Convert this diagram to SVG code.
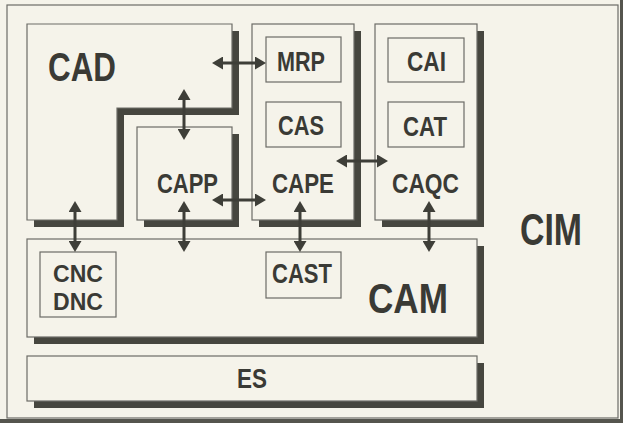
<svg xmlns="http://www.w3.org/2000/svg" width="623" height="423" viewBox="0 0 623 423">
<style>
.box{fill:#f5f3ea;stroke:#6c6c66;stroke-width:1.2}
.sh{fill:#46463f}
.lbl{font-family:"Liberation Sans",Arial,sans-serif;font-weight:bold;fill:#3a3a35;font-size:28px}
.con{stroke:#3e3e38;stroke-width:3;fill:none;marker-start:url(#ah);marker-end:url(#ah)}
</style>
<defs>
<marker id="ah" markerUnits="userSpaceOnUse" markerWidth="13" markerHeight="13" refX="4" refY="6.5" orient="auto-start-reverse">
<path d="M0,0 L11,6.5 L0,13 z" fill="#3e3e38"/>
</marker>
</defs>
<rect x="0" y="0" width="623" height="423" fill="#55554e"/>
<rect x="0" y="0" width="620" height="419" fill="#f5f3ea"/>
<g id="cim">
<rect x="7" y="5" width="611" height="413" fill="none" stroke="#6c6c66" stroke-width="1.2"/>
<text class="lbl" x="520" y="245" style="font-size:45px" textLength="62" lengthAdjust="spacingAndGlyphs">CIM</text>
</g>
<g id="cad">
<polygon class="sh" points="34,31 239,31 239,115 124,115 124,227 34,227"/>
<polygon class="box" points="27,24 232,24 232,108 117,108 117,220 27,220"/>
<text class="lbl" x="48" y="81" style="font-size:40px" textLength="68" lengthAdjust="spacingAndGlyphs">CAD</text>
</g>
<g id="capp">
<rect class="sh" x="144" y="134" width="95" height="93"/>
<rect class="box" x="137" y="127" width="95" height="93"/>
<text class="lbl" x="157" y="193" textLength="61" lengthAdjust="spacingAndGlyphs">CAPP</text>
</g>
<g id="cape">
<rect class="sh" x="259" y="31" width="102" height="196"/>
<rect class="box" x="252" y="24" width="102" height="196"/>
<text class="lbl" x="272" y="193" textLength="62" lengthAdjust="spacingAndGlyphs">CAPE</text>
</g>
<g id="mrp">
<rect class="box" x="266" y="37" width="75" height="45"/>
<text class="lbl" x="277" y="71" textLength="48" lengthAdjust="spacingAndGlyphs">MRP</text>
</g>
<g id="cas">
<rect class="box" x="266" y="102" width="75" height="45"/>
<text class="lbl" x="278" y="135" textLength="46" lengthAdjust="spacingAndGlyphs">CAS</text>
</g>
<g id="caqc">
<rect class="sh" x="382" y="31" width="102" height="196"/>
<rect class="box" x="375" y="24" width="102" height="196"/>
<text class="lbl" x="392" y="193" textLength="67" lengthAdjust="spacingAndGlyphs">CAQC</text>
</g>
<g id="cai">
<rect class="box" x="388" y="38" width="76" height="44"/>
<text class="lbl" x="407" y="71" textLength="39" lengthAdjust="spacingAndGlyphs">CAI</text>
</g>
<g id="cat">
<rect class="box" x="388" y="102" width="76" height="45"/>
<text class="lbl" x="403" y="136" textLength="44" lengthAdjust="spacingAndGlyphs">CAT</text>
</g>
<g id="cam">
<rect class="sh" x="34" y="246" width="450" height="98"/>
<rect class="box" x="27" y="239" width="450" height="98"/>
<text class="lbl" x="368" y="313" style="font-size:43px" textLength="80" lengthAdjust="spacingAndGlyphs">CAM</text>
</g>
<g id="cncdnc">
<rect class="box" x="40" y="252" width="76" height="65"/>
<text class="lbl" x="53" y="282" style="font-size:24.5px" textLength="50" lengthAdjust="spacingAndGlyphs">CNC</text>
<text class="lbl" x="53" y="310" style="font-size:24.5px" textLength="50" lengthAdjust="spacingAndGlyphs">DNC</text>
</g>
<g id="cast">
<rect class="box" x="266" y="252" width="75" height="46"/>
<text class="lbl" x="272" y="283" textLength="60" lengthAdjust="spacingAndGlyphs">CAST</text>
</g>
<g id="es">
<rect class="sh" x="34" y="363" width="450" height="45"/>
<rect class="box" x="27" y="356" width="450" height="45"/>
<text class="lbl" x="237" y="388" textLength="30" lengthAdjust="spacingAndGlyphs">ES</text>
</g>
<g id="connectors">
<path class="con" d="M219,63 H259"/>
<path class="con" d="M184,96 V133"/>
<path class="con" d="M219,200 H259"/>
<path class="con" d="M343,161 H381"/>
<path class="con" d="M75,208 V245"/>
<path class="con" d="M184,208 V245"/>
<path class="con" d="M300,208 V245"/>
<path class="con" d="M429,208 V245"/>
</g>
</svg>
